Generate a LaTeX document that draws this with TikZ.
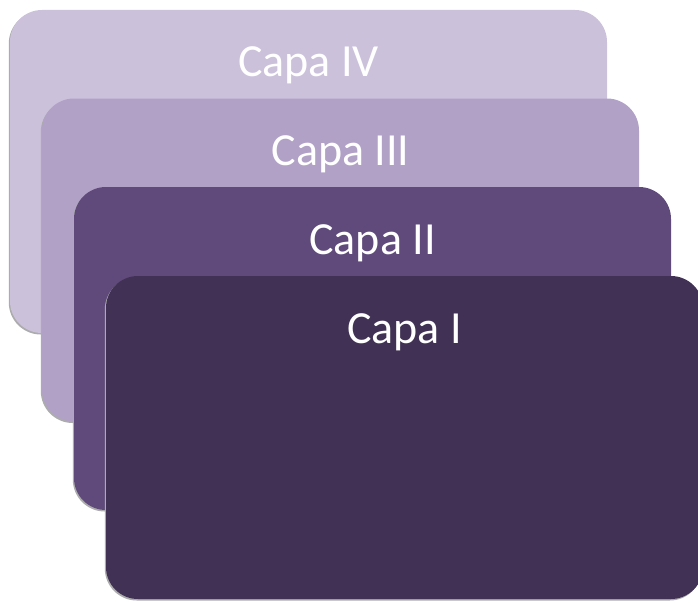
\documentclass[tikz,border=0pt]{standalone}
\usepackage{fontspec}
\setmainfont{Carlito}
\usetikzlibrary{shadows}
\definecolor{cfour}{RGB}{203,193,219}
\definecolor{cthree}{RGB}{177,161,199}
\definecolor{ctwo}{RGB}{95,74,123}
\definecolor{cone}{RGB}{65,50,85}
\begin{document}
\begin{tikzpicture}[x=1pt,y=-1pt,
  layer/.style={minimum width=597pt, minimum height=323pt, inner sep=0pt,
    rounded corners=32pt,
    drop shadow={shadow xshift=-1.2pt, shadow yshift=-1.5pt, fill=gray!65, opacity=1}},
  lbl/.style={text=white, anchor=base, inner sep=0pt, font=\fontsize{46}{55}\selectfont}]
\useasboundingbox (0,0) rectangle (698,602);
\begin{scope}
\clip (0,0) rectangle (698,602);
\node[layer, fill=cfour] (r4) at (308.5,171.5) {};
\node[lbl] (t4) at (308.5,77) {Capa IV};
\node[layer, fill=cthree] (r3) at (340.5,260) {};
\node[lbl] (t3) at (340.5,165.5) {Capa III};
\node[layer, fill=ctwo] (r2) at (372.5,348.5) {};
\node[lbl] (t2) at (372.5,254) {Capa II};
\node[layer, fill=cone] (r1) at (404.5,437.5) {};
\node[lbl] (t1) at (404.5,343) {Capa I};
\end{scope}
\end{tikzpicture}
\end{document}
